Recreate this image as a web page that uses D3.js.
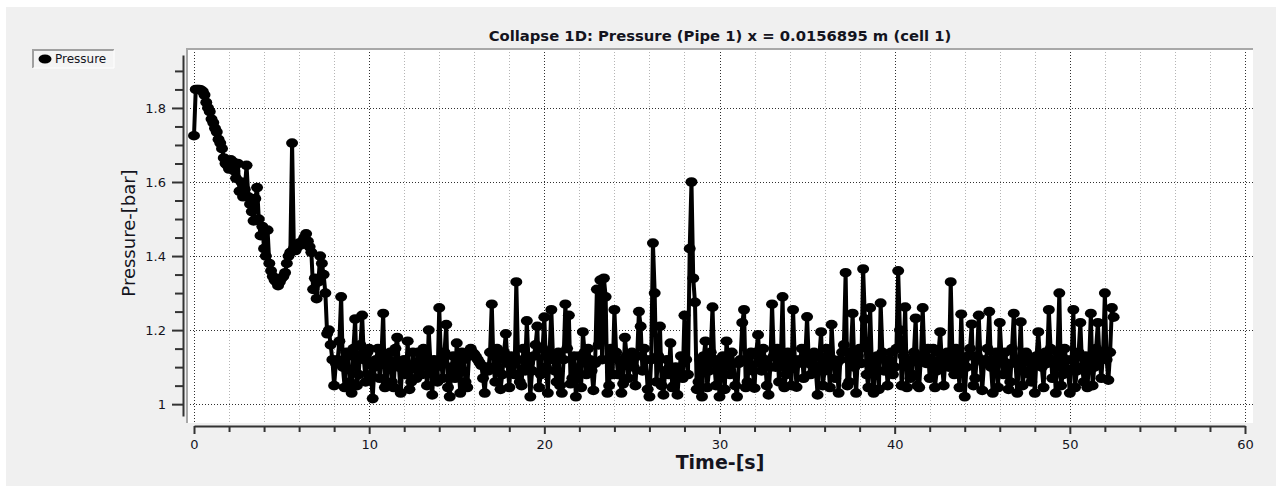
<!DOCTYPE html>
<html>
<head>
<meta charset="utf-8">
<script src="https://cdn.jsdelivr.net/npm/d3@7"></script>
<style>
  body { margin: 0; background: #fff; }
  svg { display: block; }
</style>
</head>
<body>
<div id="chart"></div>
<script>
// sample times (s), one row per second
const timeS = [
  0, 0.1, 0.2, 0.3, 0.4, 0.5, 0.6, 0.7, 0.8, 0.9,
  1, 1.1, 1.2, 1.3, 1.4, 1.5, 1.6, 1.7, 1.8, 1.9,
  2, 2.1, 2.2, 2.3, 2.4, 2.5, 2.6, 2.7, 2.8, 2.9,
  3, 3.1, 3.2, 3.3, 3.4, 3.5, 3.6, 3.7, 3.8, 3.9,
  4, 4.1, 4.2, 4.3, 4.4, 4.5, 4.6, 4.7, 4.8, 4.9,
  5, 5.1, 5.2, 5.3, 5.4, 5.5, 5.6, 5.7, 5.8, 5.9,
  6, 6.1, 6.2, 6.3, 6.4, 6.5, 6.6, 6.7, 6.8, 6.9,
  7, 7.1, 7.2, 7.3, 7.4, 7.5, 7.6, 7.7, 7.8, 7.9,
  8, 8.1, 8.2, 8.3, 8.4, 8.5, 8.6, 8.7, 8.8, 8.9,
  9, 9.1, 9.2, 9.3, 9.4, 9.5, 9.6, 9.7, 9.8, 9.9,
  10, 10.1, 10.2, 10.3, 10.4, 10.5, 10.6, 10.7, 10.8, 10.9,
  11, 11.1, 11.2, 11.3, 11.4, 11.5, 11.6, 11.7, 11.8, 11.9,
  12, 12.1, 12.2, 12.3, 12.4, 12.5, 12.6, 12.7, 12.8, 12.9,
  13, 13.1, 13.2, 13.3, 13.4, 13.5, 13.6, 13.7, 13.8, 13.9,
  14, 14.1, 14.2, 14.3, 14.4, 14.5, 14.6, 14.7, 14.8, 14.9,
  15, 15.1, 15.2, 15.3, 15.4, 15.5, 15.6, 15.7, 15.8, 15.9,
  16, 16.1, 16.2, 16.3, 16.4, 16.5, 16.6, 16.7, 16.8, 16.9,
  17, 17.1, 17.2, 17.3, 17.4, 17.5, 17.6, 17.7, 17.8, 17.9,
  18, 18.1, 18.2, 18.3, 18.4, 18.5, 18.6, 18.7, 18.8, 18.9,
  19, 19.1, 19.2, 19.3, 19.4, 19.5, 19.6, 19.7, 19.8, 19.9,
  20, 20.1, 20.2, 20.3, 20.4, 20.5, 20.6, 20.7, 20.8, 20.9,
  21, 21.1, 21.2, 21.3, 21.4, 21.5, 21.6, 21.7, 21.8, 21.9,
  22, 22.1, 22.2, 22.3, 22.4, 22.5, 22.6, 22.7, 22.8, 22.9,
  23, 23.1, 23.2, 23.3, 23.4, 23.5, 23.6, 23.7, 23.8, 23.9,
  24, 24.1, 24.2, 24.3, 24.4, 24.5, 24.6, 24.7, 24.8, 24.9,
  25, 25.1, 25.2, 25.3, 25.4, 25.5, 25.6, 25.7, 25.8, 25.9,
  26, 26.1, 26.2, 26.3, 26.4, 26.5, 26.6, 26.7, 26.8, 26.9,
  27, 27.1, 27.2, 27.3, 27.4, 27.5, 27.6, 27.7, 27.8, 27.9,
  28, 28.1, 28.2, 28.3, 28.4, 28.5, 28.6, 28.7, 28.8, 28.9,
  29, 29.1, 29.2, 29.3, 29.4, 29.5, 29.6, 29.7, 29.8, 29.9,
  30, 30.1, 30.2, 30.3, 30.4, 30.5, 30.6, 30.7, 30.8, 30.9,
  31, 31.1, 31.2, 31.3, 31.4, 31.5, 31.6, 31.7, 31.8, 31.9,
  32, 32.1, 32.2, 32.3, 32.4, 32.5, 32.6, 32.7, 32.8, 32.9,
  33, 33.1, 33.2, 33.3, 33.4, 33.5, 33.6, 33.7, 33.8, 33.9,
  34, 34.1, 34.2, 34.3, 34.4, 34.5, 34.6, 34.7, 34.8, 34.9,
  35, 35.1, 35.2, 35.3, 35.4, 35.5, 35.6, 35.7, 35.8, 35.9,
  36, 36.1, 36.2, 36.3, 36.4, 36.5, 36.6, 36.7, 36.8, 36.9,
  37, 37.1, 37.2, 37.3, 37.4, 37.5, 37.6, 37.7, 37.8, 37.9,
  38, 38.1, 38.2, 38.3, 38.4, 38.5, 38.6, 38.7, 38.8, 38.9,
  39, 39.1, 39.2, 39.3, 39.4, 39.5, 39.6, 39.7, 39.8, 39.9,
  40, 40.1, 40.2, 40.3, 40.4, 40.5, 40.6, 40.7, 40.8, 40.9,
  41, 41.1, 41.2, 41.3, 41.4, 41.5, 41.6, 41.7, 41.8, 41.9,
  42, 42.1, 42.2, 42.3, 42.4, 42.5, 42.6, 42.7, 42.8, 42.9,
  43, 43.1, 43.2, 43.3, 43.4, 43.5, 43.6, 43.7, 43.8, 43.9,
  44, 44.1, 44.2, 44.3, 44.4, 44.5, 44.6, 44.7, 44.8, 44.9,
  45, 45.1, 45.2, 45.3, 45.4, 45.5, 45.6, 45.7, 45.8, 45.9,
  46, 46.1, 46.2, 46.3, 46.4, 46.5, 46.6, 46.7, 46.8, 46.9,
  47, 47.1, 47.2, 47.3, 47.4, 47.5, 47.6, 47.7, 47.8, 47.9,
  48, 48.1, 48.2, 48.3, 48.4, 48.5, 48.6, 48.7, 48.8, 48.9,
  49, 49.1, 49.2, 49.3, 49.4, 49.5, 49.6, 49.7, 49.8, 49.9,
  50, 50.1, 50.2, 50.3, 50.4, 50.5, 50.6, 50.7, 50.8, 50.9,
  51, 51.1, 51.2, 51.3, 51.4, 51.5, 51.6, 51.7, 51.8, 51.9,
  52, 52.1, 52.2, 52.3, 52.4, 52.5
];

// pressure (bar), same rows as timeS
const pressureBar = [
  1.725, 1.850, 1.850, 1.850, 1.848, 1.845, 1.835, 1.815, 1.800, 1.790,
  1.770, 1.760, 1.745, 1.735, 1.715, 1.705, 1.690, 1.665, 1.650, 1.645,
  1.635, 1.660, 1.655, 1.630, 1.610, 1.650, 1.575, 1.600, 1.560, 1.580,
  1.645, 1.560, 1.540, 1.520, 1.495, 1.555, 1.585, 1.500, 1.455, 1.480,
  1.420, 1.400, 1.470, 1.380, 1.360, 1.345, 1.335, 1.330, 1.320, 1.330,
  1.340, 1.345, 1.355, 1.380, 1.400, 1.410, 1.705, 1.420, 1.415, 1.425,
  1.435, 1.430, 1.440, 1.450, 1.460, 1.440, 1.425, 1.410, 1.310, 1.340,
  1.285, 1.330, 1.400, 1.380, 1.350, 1.300, 1.190, 1.200, 1.160, 1.120,
  1.050, 1.110, 1.120, 1.170, 1.290, 1.100, 1.045, 1.140, 1.130, 1.060,
  1.030, 1.150, 1.230, 1.050, 1.080, 1.160, 1.240, 1.120, 1.060, 1.140,
  1.150, 1.080, 1.015, 1.100, 1.120, 1.150, 1.070, 1.130, 1.245, 1.045,
  1.055, 1.120, 1.140, 1.060, 1.045, 1.150, 1.180, 1.100, 1.030, 1.110,
  1.120, 1.080, 1.170, 1.040, 1.060, 1.140, 1.110, 1.070, 1.140, 1.100,
  1.080, 1.150, 1.130, 1.050, 1.200, 1.110, 1.025, 1.120, 1.100, 1.060,
  1.260, 1.120, 1.070, 1.140, 1.215, 1.045, 1.020, 1.100, 1.130, 1.070,
  1.165, 1.110, 1.030, 1.140, 1.120, 1.060, 1.045, 1.130, 1.150, 1.140,
  1.135, 1.128, 1.120, 1.112, 1.105, 1.070, 1.030, 1.100, 1.090, 1.140,
  1.270, 1.100, 1.060, 1.150, 1.120, 1.040, 1.080, 1.140, 1.190, 1.110,
  1.045, 1.130, 1.110, 1.080, 1.330, 1.120, 1.060, 1.050, 1.150, 1.090,
  1.225, 1.110, 1.020, 1.090, 1.130, 1.160, 1.210, 1.045, 1.080, 1.150,
  1.235, 1.100, 1.030, 1.140, 1.255, 1.120, 1.090, 1.060, 1.140, 1.050,
  1.030, 1.120, 1.270, 1.150, 1.240, 1.055, 1.070, 1.130, 1.020, 1.090,
  1.130, 1.045, 1.195, 1.140, 1.080, 1.150, 1.120, 1.090, 1.037, 1.110,
  1.310, 1.160, 1.335, 1.120, 1.340, 1.290, 1.030, 1.050, 1.150, 1.080,
  1.255, 1.140, 1.080, 1.120, 1.030, 1.055, 1.180, 1.130, 1.070, 1.110,
  1.140, 1.100, 1.050, 1.130, 1.250, 1.210, 1.090, 1.150, 1.120, 1.040,
  1.020, 1.120, 1.435, 1.300, 1.060, 1.130, 1.210, 1.050, 1.025, 1.090,
  1.120, 1.080, 1.165, 1.045, 1.050, 1.100, 1.025, 1.090, 1.130, 1.070,
  1.240, 1.120, 1.080, 1.420, 1.600, 1.340, 1.275, 1.040, 1.060, 1.120,
  1.020, 1.130, 1.170, 1.045, 1.090, 1.140, 1.262, 1.110, 1.050, 1.120,
  1.020, 1.100, 1.130, 1.040, 1.170, 1.120, 1.080, 1.140, 1.110, 1.050,
  1.020, 1.110, 1.120, 1.220, 1.255, 1.045, 1.060, 1.130, 1.140, 1.090,
  1.043, 1.140, 1.187, 1.110, 1.090, 1.150, 1.120, 1.050, 1.025, 1.100,
  1.270, 1.130, 1.100, 1.150, 1.060, 1.120, 1.290, 1.045, 1.080, 1.140,
  1.130, 1.050, 1.255, 1.120, 1.046, 1.110, 1.120, 1.150, 1.070, 1.130,
  1.236, 1.110, 1.080, 1.120, 1.140, 1.090, 1.025, 1.130, 1.195, 1.050,
  1.090, 1.150, 1.130, 1.045, 1.215, 1.120, 1.070, 1.110, 1.030, 1.120,
  1.140, 1.160, 1.355, 1.050, 1.060, 1.140, 1.245, 1.100, 1.030, 1.130,
  1.150, 1.110, 1.365, 1.230, 1.080, 1.045, 1.260, 1.100, 1.030, 1.120,
  1.130, 1.040, 1.273, 1.140, 1.090, 1.120, 1.050, 1.110, 1.140, 1.080,
  1.100, 1.150, 1.360, 1.200, 1.050, 1.130, 1.262, 1.045, 1.120, 1.070,
  1.080, 1.140, 1.232, 1.050, 1.045, 1.130, 1.260, 1.120, 1.110, 1.150,
  1.070, 1.120, 1.150, 1.045, 1.090, 1.140, 1.195, 1.110, 1.050, 1.130,
  1.140, 1.100, 1.330, 1.130, 1.080, 1.150, 1.120, 1.045, 1.243, 1.110,
  1.020, 1.100, 1.130, 1.150, 1.216, 1.050, 1.070, 1.130, 1.240, 1.120,
  1.037, 1.110, 1.120, 1.150, 1.250, 1.100, 1.030, 1.120, 1.140, 1.045,
  1.220, 1.130, 1.080, 1.140, 1.110, 1.040, 1.060, 1.150, 1.245, 1.110,
  1.030, 1.120, 1.222, 1.050, 1.090, 1.140, 1.130, 1.080, 1.060, 1.110,
  1.030, 1.130, 1.195, 1.120, 1.100, 1.045, 1.140, 1.110, 1.255, 1.150,
  1.070, 1.120, 1.030, 1.140, 1.300, 1.050, 1.080, 1.150, 1.120, 1.090,
  1.030, 1.120, 1.255, 1.045, 1.090, 1.140, 1.220, 1.100, 1.060, 1.130,
  1.045, 1.110, 1.245, 1.050, 1.100, 1.150, 1.220, 1.120, 1.070, 1.140,
  1.300, 1.120, 1.065, 1.140, 1.260, 1.235
];

const xMajorTicks = [0, 10, 20, 30, 40, 50, 60];
const xMinorTicks = [2, 4, 6, 8, 12, 14, 16, 18, 22, 24, 26, 28, 32, 34, 36, 38, 42, 44, 46, 48, 52, 54, 56, 58];
const yMajorTicks = [1, 1.2, 1.4, 1.6, 1.8];
const yMinorTicks = [1.05, 1.1, 1.15, 1.25, 1.3, 1.35, 1.45, 1.5, 1.55, 1.65, 1.7, 1.75, 1.85, 1.9];

const chartTitle = "Collapse 1D: Pressure (Pipe 1) x = 0.0156895 m (cell 1)";
const xTitle = "Time-[s]";
const yTitle = "Pressure-[bar]";
const seriesName = "Pressure";

const data = timeS.map((t, i) => ({ t: t, p: pressureBar[i] }));

const width = 1276, height = 486;
const canvas = { left: 187, top: 49, right: 1253, bottom: 423 };
const font = "'DejaVu Sans', Verdana, sans-serif";
const textColor = "#14141e";

const svg = d3.select("#chart").append("svg")
    .attr("width", width)
    .attr("height", height);

// widget background
svg.append("rect")
    .attr("x", 6).attr("y", 7)
    .attr("width", width - 6).attr("height", height - 7)
    .attr("fill", "#f0f0f0");

// plot canvas with sunken frame
svg.append("rect")
    .attr("x", canvas.left).attr("y", canvas.top)
    .attr("width", canvas.right - canvas.left)
    .attr("height", canvas.bottom - canvas.top)
    .attr("fill", "#fff");
svg.append("path")
    .attr("d", `M${canvas.left},${canvas.bottom} V${canvas.top} H${canvas.right}`)
    .attr("fill", "none")
    .attr("stroke", "#a8a8a8")
    .attr("stroke-width", 2);

const x = d3.scaleLinear().domain([0, 60]).range([194, 1245]);
const y = d3.scaleLinear().domain([0.968, 1.943]).range([416, 55]);

svg.append("clipPath").attr("id", "clip")
  .append("rect")
    .attr("x", canvas.left + 1).attr("y", canvas.top + 1)
    .attr("width", canvas.right - canvas.left - 1)
    .attr("height", canvas.bottom - canvas.top - 1);

const plot = svg.append("g").attr("clip-path", "url(#clip)");

// grid
plot.selectAll(".vminor")
    .data(xMinorTicks)
    .enter().append("line")
    .attr("x1", d => Math.round(x(d)) + 0.5).attr("x2", d => Math.round(x(d)) + 0.5)
    .attr("y1", canvas.top).attr("y2", canvas.bottom)
    .attr("stroke", "#b4b4b4")
    .attr("stroke-dasharray", "1,2");

plot.selectAll(".vmajor")
    .data(xMajorTicks)
    .enter().append("line")
    .attr("x1", d => Math.round(x(d)) + 0.5).attr("x2", d => Math.round(x(d)) + 0.5)
    .attr("y1", canvas.top).attr("y2", canvas.bottom)
    .attr("stroke", "#303030")
    .attr("stroke-dasharray", "1,2");

plot.selectAll(".hmajor")
    .data(yMajorTicks)
    .enter().append("line")
    .attr("x1", canvas.left).attr("x2", canvas.right)
    .attr("y1", d => Math.round(y(d)) + 0.5).attr("y2", d => Math.round(y(d)) + 0.5)
    .attr("stroke", "#303030")
    .attr("stroke-dasharray", "1,2");

// series
const line = d3.line()
    .x(d => x(d.t))
    .y(d => y(d.p));

plot.append("path")
    .datum(data)
    .attr("d", line)
    .attr("fill", "none")
    .attr("stroke", "#000")
    .attr("stroke-width", 4)
    .attr("stroke-linejoin", "round");

plot.selectAll(".marker")
    .data(data)
    .enter().append("ellipse")
    .attr("cx", d => x(d.t))
    .attr("cy", d => y(d.p))
    .attr("rx", 6)
    .attr("ry", 4.8)
    .attr("fill", "#000");

// axes
function styleAxis(g) {
    g.selectAll(".domain").attr("stroke", "#333").attr("stroke-width", 2);
    g.selectAll(".tick line").attr("stroke", "#333").attr("stroke-width", 2);
    g.selectAll(".tick text")
        .attr("fill", textColor)
        .style("font-family", font)
        .style("font-size", "13px");
}

svg.append("g")
    .attr("transform", "translate(183,0)")
    .call(d3.axisLeft(y).tickValues(yMajorTicks).tickSize(11).tickSizeOuter(0)
        .tickPadding(6).tickFormat(d => String(d)))
    .call(styleAxis);

svg.append("g")
    .attr("transform", "translate(183,0)")
    .call(d3.axisLeft(y).tickValues(yMinorTicks).tickSize(8).tickSizeOuter(0).tickFormat(""))
    .call(g => g.select(".domain").remove())
    .call(styleAxis);

svg.append("g")
    .attr("transform", "translate(0,426)")
    .call(d3.axisBottom(x).tickValues(xMajorTicks).tickSize(8).tickSizeOuter(0)
        .tickPadding(6).tickFormat(d => String(d)))
    .call(styleAxis);

svg.append("g")
    .attr("transform", "translate(0,426)")
    .call(d3.axisBottom(x).tickValues(xMinorTicks).tickSize(6).tickSizeOuter(0).tickFormat(""))
    .call(g => g.select(".domain").remove())
    .call(styleAxis);

// titles
svg.append("text")
    .attr("x", 720).attr("y", 41)
    .attr("text-anchor", "middle")
    .attr("fill", textColor)
    .style("font-family", font)
    .style("font-size", "14.8px")
    .style("font-weight", "bold")
    .text(chartTitle);

svg.append("text")
    .attr("x", 720).attr("y", 469)
    .attr("text-anchor", "middle")
    .attr("fill", textColor)
    .style("font-family", font)
    .style("font-size", "19px")
    .style("font-weight", "bold")
    .text(xTitle);

svg.append("text")
    .attr("transform", "translate(135,233) rotate(-90)")
    .attr("text-anchor", "middle")
    .attr("fill", textColor)
    .style("font-family", font)
    .style("font-size", "18px")
    .text(yTitle);

// legend
const legendG = svg.append("g").attr("transform", "translate(32,49)");
legendG.append("rect")
    .attr("width", 82).attr("height", 19)
    .attr("fill", "#f4f4f4");
legendG.append("path")
    .attr("d", "M1,19 V1 H82")
    .attr("fill", "none")
    .attr("stroke", "#a0a0a0")
    .attr("stroke-width", 2);
legendG.append("path")
    .attr("d", "M1,19 H82 V1")
    .attr("fill", "none")
    .attr("stroke", "#fff")
    .attr("stroke-width", 1);
legendG.append("ellipse")
    .attr("cx", 13).attr("cy", 10)
    .attr("rx", 6.5).attr("ry", 4.5)
    .attr("fill", "#000");
legendG.append("text")
    .attr("x", 23).attr("y", 14)
    .attr("fill", textColor)
    .style("font-family", font)
    .style("font-size", "12px")
    .text(seriesName);
</script>
</body>
</html>
